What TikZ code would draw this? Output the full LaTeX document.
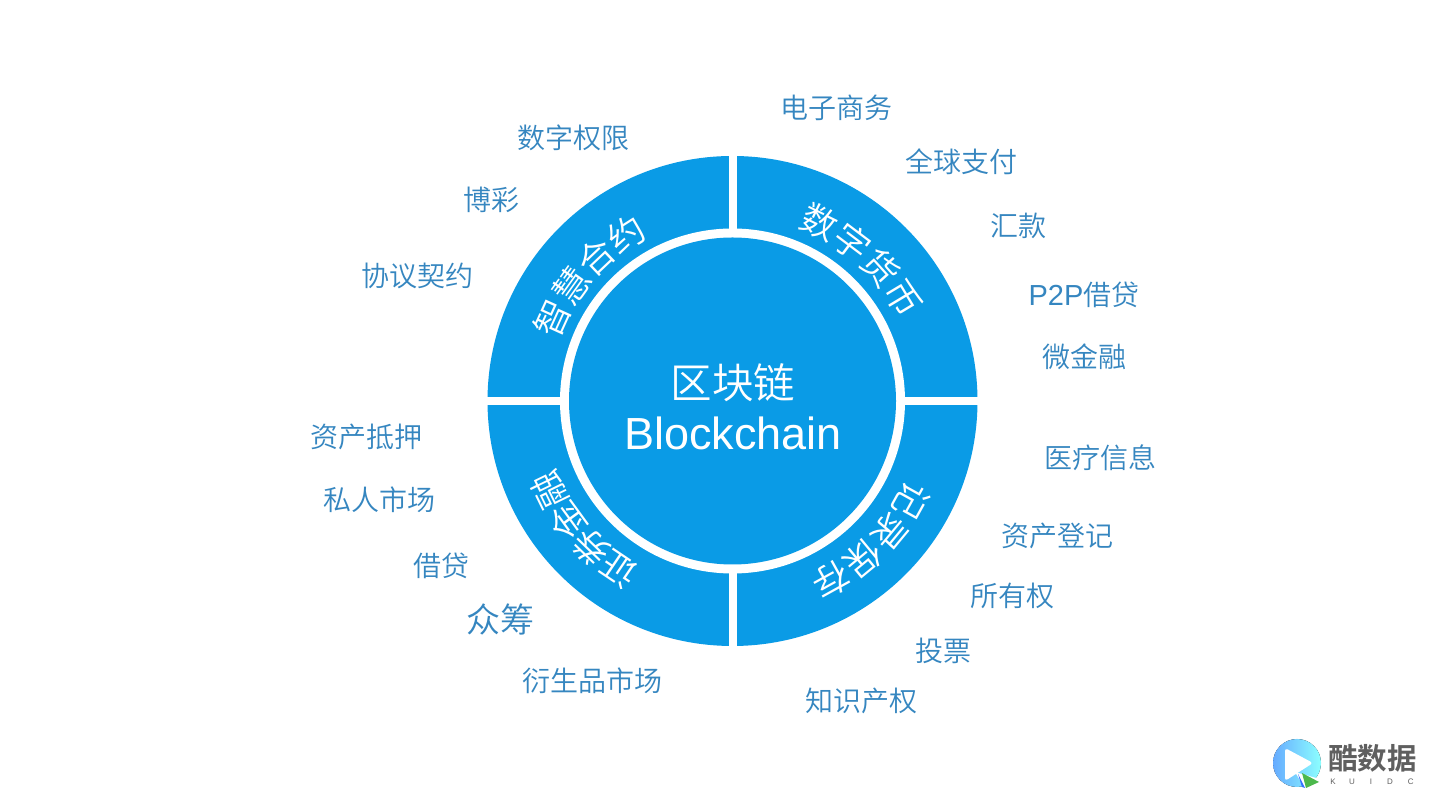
\documentclass[tikz,border=0pt]{standalone}
\usepackage{fontspec}
\setmainfont{Liberation Sans}
\newfontfamily\cjk{Noto Sans CJK SC DemiLight}
\newfontfamily\cjkb{Noto Sans CJK SC Bold}
\usetikzlibrary{calc}
\definecolor{ringblue}{HTML}{0A9BE6}
\definecolor{labelblue}{HTML}{3586C0}
\definecolor{logogray}{HTML}{5F5F5F}
\tikzset{
  lbl/.style={text=labelblue,inner sep=0pt,font=\fontsize{28}{28}\selectfont\cjk},
  ringch/.style={text=white,inner sep=0pt,font=\fontsize{36}{36}\selectfont\cjk},
}
\newcommand{\ringword}[8]{% name, start angle, step, radius, chars
  \foreach \ch [count=\i from 0] in {#5,#6,#7,#8} {
    \pgfmathsetmacro{\ang}{#2+\i*#3}
    \pgfmathsetmacro{\rot}{\ang-90}
    \node[ringch,rotate=\rot] (#1\i) at ([shift={(\ang:#4)}]c) {\ch};
  }
}
\begin{document}
\begin{tikzpicture}[x=1pt,y=1pt]
\useasboundingbox (0,0) rectangle (1440,810);
\fill[white] (0,0) rectangle (1440,810);
\coordinate (c) at (732.5,409);
\fill[ringblue] (c) circle (245);
\fill[white] (c) circle (172.5);
\fill[white] ($(c)+(-4,-250)$) rectangle ($(c)+(4,250)$);
\fill[white] ($(c)+(-250,-4)$) rectangle ($(c)+(250,4)$);
\fill[ringblue] (c) circle (163.5);
\node[text=white,inner sep=0pt,font=\fontsize{41.5}{41.5}\selectfont\cjk] (t1) at (733,427) {区块链};
\node[text=white,inner sep=0pt,font=\fontsize{45}{45}\selectfont] (t2) at (733,377) {Blockchain};
\ringword{a}{64}{-11}{199}{数}{字}{货}{币}
\ringword{b}{155.5}{-11}{198}{智}{慧}{合}{约}
\ringword{d}{-29}{-10.7}{205}{记}{录}{保}{存}
\ringword{e}{-124}{-10}{204}{证}{券}{金}{融}
\node[lbl] (n1) at (836,702) {电子商务};
\node[lbl] (n2) at (961,648) {全球支付};
\node[lbl] (n3) at (1018,584) {汇款};
\node[lbl] (n4) at (1084,515) {{\fontsize{29}{29}\selectfont\rmfamily P2P}借贷};
\node[lbl] (n5) at (1084,453) {微金融};
\node[lbl] (n6) at (1100,352) {医疗信息};
\node[lbl] (n7) at (1057,274) {资产登记};
\node[lbl] (n8) at (1012,214) {所有权};
\node[lbl] (n9) at (943,159) {投票};
\node[lbl] (n10) at (861,109) {知识产权};
\node[lbl] (n11) at (592,129) {衍生品市场};
\node[lbl,font=\fontsize{34}{34}\selectfont\cjk] (n12) at (500,191) {众筹};
\node[lbl] (n13) at (441,244) {借贷};
\node[lbl] (n14) at (379,310) {私人市场};
\node[lbl] (n15) at (366,373) {资产抵押};
\node[lbl] (n16) at (417,534) {协议契约};
\node[lbl] (n17) at (491,610) {博彩};
\node[lbl] (n18) at (573,672) {数字权限};
% logo
\coordinate (lg) at (1297,47);
\fill[left color=cyan!45!blue!60,right color=cyan!45] (lg) circle (24);
\fill[white,rounded corners=3pt] (1285,62) -- (1313,47) -- (1285,29) -- cycle;
\fill[white] (1295,38) -- (1323,30) -- (1306,20) -- cycle;
\fill[green!60!black!70] (1302,37) -- (1319,28) -- (1306,22) -- cycle;
\fill[blue!70!cyan!80] (1298,36) -- (1305,22) -- (1302,23) -- cycle;
\node[inner sep=0pt,text=logogray,font=\fontsize{29.5}{29.5}\selectfont\cjkb] (lt) at (1372.5,52) {酷数据};
\node[inner sep=0pt,text=logogray,font=\fontsize{8}{8}\selectfont] (lk) at (1372,28) {K\hspace{13.5pt}U\hspace{15pt}I\hspace{15pt}D\hspace{15pt}C};
\end{tikzpicture}
\end{document}
